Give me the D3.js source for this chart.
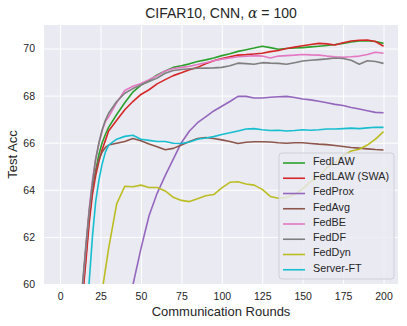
<!DOCTYPE html>
<html>
<head>
<meta charset="utf-8">
<script src="https://cdn.jsdelivr.net/npm/d3@7"></script>
<style>
  body { margin: 0; background: #fff; }
  svg { font-family: "Liberation Sans", Arial, sans-serif; }
</style>
</head>
<body>
<div id="chart"></div>
<script>
// values
const rounds = [10, 12, 14, 16, 18, 20, 22, 24, 26, 28, 30,
  35, 40, 45, 50, 55, 60, 65, 70, 75, 80, 85, 90, 95, 100,
  105, 110, 115, 120, 125, 130, 135, 140, 145, 150, 155, 160,
  165, 170, 175, 180, 185, 190, 195, 200];

const fedLaw = [57.0, 58.3, 59.6, 61.2, 62.8, 64.0, 64.8, 65.5, 66.0, 66.35, 66.65,
  67.2, 67.7, 68.15, 68.45, 68.65, 68.88, 69.05, 69.2, 69.27, 69.35, 69.45, 69.52, 69.6, 69.7,
  69.78, 69.88, 69.95, 70.02, 70.1, 70.04, 69.97, 70.0, 70.02, 70.04, 70.07, 70.1,
  70.13, 70.17, 70.22, 70.28, 70.32, 70.33, 70.3, 70.22];

const fedLawSwa = [56.8, 58.1, 59.5, 61.0, 62.6, 63.8, 64.6, 65.2, 65.7, 66.1, 66.5,
  66.95, 67.4, 67.75, 68.05, 68.25, 68.5, 68.68, 68.85, 68.97, 69.1, 69.2, 69.35, 69.48, 69.58,
  69.65, 69.72, 69.74, 69.77, 69.8, 69.87, 69.92, 70.0, 70.06, 70.12, 70.17, 70.22,
  70.2, 70.15, 70.25, 70.32, 70.35, 70.36, 70.3, 70.1];

const fedProx = [48, 49, 50, 51, 52, 53, 53.8, 54.5, 55.2, 55.8, 56.4,
  57.6, 58.8, 59.95, 61.5, 62.9, 63.85, 64.6, 65.3, 66.0, 66.5, 66.85, 67.1, 67.35, 67.55,
  67.75, 67.97, 67.97, 67.9, 67.9, 67.93, 67.95, 67.97, 67.92, 67.86, 67.82, 67.76,
  67.7, 67.63, 67.58, 67.5, 67.43, 67.36, 67.29, 67.27];

const fedAvg = [56.5, 58.2, 59.8, 61.5, 63.0, 64.1, 64.8, 65.3, 65.6, 65.8, 65.9,
  65.98, 66.05, 66.18, 66.08, 65.95, 65.83, 65.7, 65.76, 65.9, 66.05, 66.18, 66.22, 66.18, 66.12,
  66.05, 65.97, 66.02, 66.04, 66.04, 66.03, 66.0, 65.98, 66.0, 66.0, 65.97, 65.94,
  65.92, 65.88, 65.84, 65.8, 65.77, 65.74, 65.71, 65.69];

const fedBe = [56.8, 58.4, 60.0, 61.6, 63.2, 64.4, 65.3, 65.95, 66.5, 66.9, 67.1,
  67.7, 68.22, 68.4, 68.52, 68.68, 68.85, 69.05, 69.15, 69.2, 69.25, 69.32, 69.4, 69.48, 69.55,
  69.6, 69.65, 69.67, 69.7, 69.68, 69.6, 69.68, 69.7, 69.72, 69.75, 69.73, 69.72,
  69.68, 69.65, 69.63, 69.65, 69.68, 69.75, 69.84, 69.8];

const fedDf = [57.5, 59.0, 60.1, 61.7, 63.1, 64.3, 65.3, 66.0, 66.55, 66.95, 67.25,
  67.75, 68.1, 68.3, 68.45, 68.6, 68.75, 68.95, 69.07, 69.11, 69.14, 69.16, 69.17, 69.18, 69.2,
  69.27, 69.38, 69.36, 69.33, 69.4, 69.38, 69.37, 69.33, 69.4, 69.47, 69.5, 69.53,
  69.56, 69.6, 69.58, 69.5, 69.33, 69.48, 69.45, 69.37];

const fedDyn = [48, 49.5, 51, 52.5, 54, 55.5, 57, 58.4, 59.7, 60.6, 61.5,
  63.4, 64.15, 64.13, 64.2, 64.1, 64.1, 63.95, 63.68, 63.55, 63.5, 63.62, 63.75, 63.8, 64.08,
  64.32, 64.34, 64.25, 64.2, 64.02, 63.72, 63.64, 63.68, 63.8, 64.05, 64.35, 64.55,
  64.95, 65.15, 65.45, 65.65, 65.72, 65.9, 66.15, 66.47];

const serverFt = [52, 54, 56, 58.2, 60.1, 62.0, 63.5, 64.4, 65.1, 65.6, 65.9,
  66.15, 66.27, 66.32, 66.15, 66.1, 66.05, 66.05, 65.98, 65.97, 66.03, 66.15, 66.2, 66.26, 66.35,
  66.42, 66.5, 66.58, 66.6, 66.55, 66.52, 66.53, 66.5, 66.52, 66.55, 66.53, 66.55,
  66.58, 66.58, 66.6, 66.62, 66.6, 66.63, 66.66, 66.65];

const seriesNames = ["FedLAW", "FedLAW (SWA)", "FedProx", "FedAvg", "FedBE", "FedDF", "FedDyn", "Server-FT"];
const seriesValues = [fedLaw, fedLawSwa, fedProx, fedAvg, fedBe, fedDf, fedDyn, serverFt];
const seriesColors = ["#2ca02c", "#d62728", "#9467bd", "#8c564b", "#e377c2", "#7f7f7f", "#bcbd22", "#17becf"];

const xTicks = [0, 25, 50, 75, 100, 125, 150, 175, 200];
const yTicks = [60, 62, 64, 66, 68, 70];

const margin = {top: 25, right: 9, bottom: 42, left: 44};
const width = 407 - margin.left - margin.right;
const height = 326 - margin.top - margin.bottom;

const svg = d3.select("#chart").append("svg")
    .attr("width", 407)
    .attr("height", 326);

const g = svg.append("g")
    .attr("transform", `translate(${margin.left},${margin.top})`);

const x = d3.scaleLinear()
    .domain([-9.95, 208.95])
    .range([0, width]);

const y = d3.scaleLinear()
    .domain([60, 71])
    .range([height, 0]);

g.append("rect")
    .attr("width", width)
    .attr("height", height)
    .attr("fill", "#eaeaf2");

// grid
g.append("g")
    .attr("transform", `translate(0,${height})`)
    .call(d3.axisBottom(x).tickValues(xTicks).tickSize(-height).tickFormat(d3.format("d")))
    .call(a => a.select(".domain").remove())
    .call(a => a.selectAll(".tick line").attr("stroke", "#fff").attr("stroke-width", 1))
    .call(a => a.selectAll(".tick text")
        .attr("y", 9)
        .attr("dy", "0.71em")
        .attr("fill", "#262626")
        .style("font-size", "10.5px")
        .style("font-family", "Liberation Sans, Arial, sans-serif"));

g.append("g")
    .call(d3.axisLeft(y).tickValues(yTicks).tickSize(-width).tickFormat(d3.format("d")))
    .call(a => a.select(".domain").remove())
    .call(a => a.selectAll(".tick line").attr("stroke", "#fff").attr("stroke-width", 1))
    .call(a => a.selectAll(".tick text")
        .attr("x", -9)
        .attr("fill", "#262626")
        .style("font-size", "10.5px")
        .style("font-family", "Liberation Sans, Arial, sans-serif"));

g.append("clipPath")
    .attr("id", "plot-clip")
    .append("rect")
    .attr("width", width)
    .attr("height", height);

const line = d3.line()
    .x((d, i) => x(rounds[i]))
    .y(d => y(d));

g.append("g")
    .attr("clip-path", "url(#plot-clip)")
    .selectAll("path")
    .data(seriesValues)
    .enter()
    .append("path")
        .attr("d", d => line(d))
        .attr("fill", "none")
        .attr("stroke", (d, i) => seriesColors[i])
        .attr("stroke-width", 1.6)
        .attr("stroke-linejoin", "round");

// labels
svg.append("text")
    .attr("x", margin.left + width / 2)
    .attr("y", 18)
    .attr("text-anchor", "middle")
    .attr("fill", "#262626")
    .style("font-size", "14px")
    .html('CIFAR10, CNN, <tspan font-family="DejaVu Serif" font-style="italic">α</tspan> = 100');

svg.append("text")
    .attr("x", margin.left + width / 2)
    .attr("y", 316)
    .attr("text-anchor", "middle")
    .attr("fill", "#262626")
    .style("font-size", "13px")
    .text("Communication Rounds");

svg.append("text")
    .attr("transform", "rotate(-90)")
    .attr("x", -(margin.top + height / 2))
    .attr("y", 17)
    .attr("text-anchor", "middle")
    .attr("fill", "#262626")
    .style("font-size", "13px")
    .text("Test Acc");

// legend
const legend = svg.append("g")
    .attr("transform", "translate(279,153)");

legend.append("rect")
    .attr("width", 115)
    .attr("height", 126)
    .attr("rx", 3)
    .attr("fill", "#eaeaf2")
    .attr("fill-opacity", 0.8)
    .attr("stroke", "#cfcfd6")
    .attr("stroke-width", 1);

const legendItem = legend.selectAll(".legend-item")
    .data(seriesNames)
    .enter()
    .append("g")
        .attr("class", "legend-item")
        .attr("transform", (d, i) => `translate(0, ${10 + i * 15.25})`);

legendItem.append("line")
    .attr("x1", 4)
    .attr("x2", 26)
    .attr("stroke", (d, i) => seriesColors[i])
    .attr("stroke-width", 1.6);

legendItem.append("text")
    .attr("x", 34)
    .attr("y", -1)
    .attr("dominant-baseline", "middle")
    .attr("fill", "#262626")
    .style("font-size", "10.8px")
    .text(d => d);
</script>
</body>
</html>
